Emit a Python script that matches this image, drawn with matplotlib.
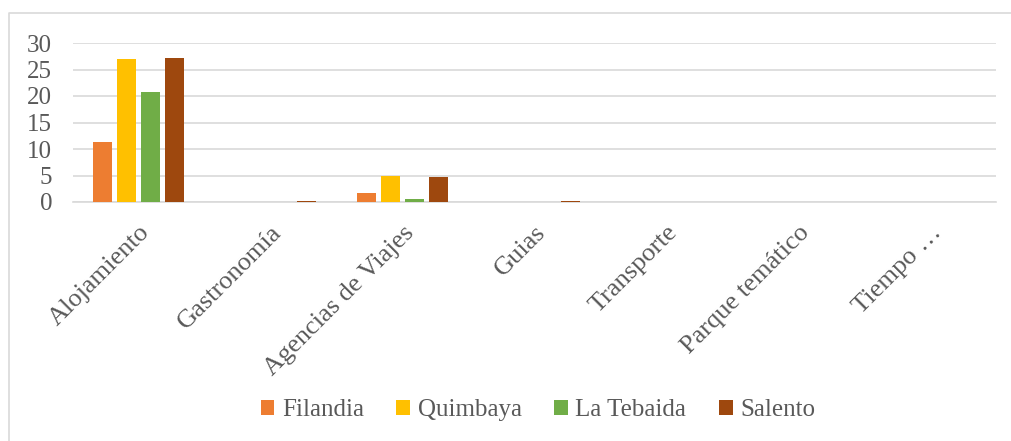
import numpy as np
import matplotlib.pyplot as plt
from matplotlib.lines import Line2D

categories = ["Alojamiento", "Gastronomía", "Agencias de Viajes", "Guias",
              "Transporte", "Parque temático", "Tiempo …"]
filandia = [11.3, 0, 1.7, 0, 0, 0, 0]
quimbaya = [27.0, 0, 4.9, 0, 0, 0, 0]
tebaida = [20.8, 0, 0.6, 0, 0, 0, 0]
salento = [27.1, 0.2, 4.7, 0.2, 0, 0, 0]

series = [("Filandia", filandia, "#ED7D31"),
          ("Quimbaya", quimbaya, "#FFC000"),
          ("La Tebaida", tebaida, "#70AD47"),
          ("Salento", salento, "#9E480E")]

plt.rcParams['font.family'] = ['Liberation Serif', 'DejaVu Serif']

fig = plt.figure(figsize=(10.11, 4.41), dpi=100)
ax = fig.add_axes([73 / 1011, 1 - 202 / 441, 923 / 1011, 159 / 441])

x = np.arange(len(categories))
w = 0.144
step = 0.182
for i, (name, vals, col) in enumerate(series):
    ax.bar(x + (i - 1.5) * step, vals, w, color=col, label=name, zorder=3)

ax.set_xlim(-0.5, len(categories) - 0.5)
ax.set_ylim(0, 30)
ax.set_yticks(range(0, 31, 5))
ax.yaxis.grid(True, color="#D9D9D9", linewidth=1.2, zorder=0)
for s in ["top", "right", "left"]:
    ax.spines[s].set_visible(False)
ax.spines["bottom"].set_color("#D9D9D9")
ax.spines["bottom"].set_linewidth(1.2)
ax.tick_params(axis="both", length=0, colors="#595959", labelsize=18)
ax.tick_params(axis="y", pad=15)
ax.set_xticks(x)
ax.set_xticklabels(categories, rotation=45, ha="right", rotation_mode="anchor",
                   fontsize=19, color="#595959")
ax.tick_params(axis="x", pad=14)

fig.legend(loc="center", bbox_to_anchor=(0.532, 1 - 410 / 441), ncol=4,
           frameon=False, fontsize=18, handlelength=0.55, handleheight=0.55,
           handletextpad=0.3, columnspacing=1.3, labelcolor="#595959")

fig.lines.append(Line2D([9 / 1011, 9 / 1011, 1.0], [0, 1 - 13 / 441, 1 - 13 / 441],
                        transform=fig.transFigure, color="#D9D9D9", linewidth=1.2))

fig.savefig("out.png", dpi=100)
